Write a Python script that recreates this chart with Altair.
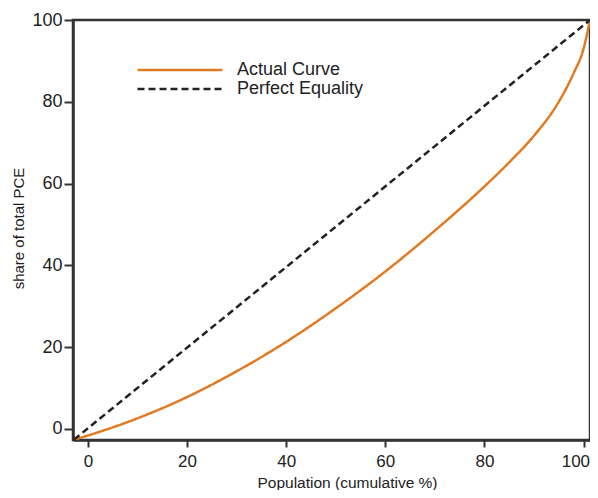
import altair as alt
import pandas as pd

# Lorenz curve readings
actual_x = [-2.8, 0, 10, 20, 30, 40, 50, 60, 70, 80, 85, 90, 95, 98, 100, 101.3]
actual_y = [-2.6, -1.6, 2.6, 7.8, 14.1, 21.3, 29.5, 38.5, 48.5, 59.3, 65.2, 71.7, 80, 87, 93, 100]
equal_x = [-2.8, 101.3]
equal_y = [-2.6, 100]
series = ["Actual Curve", "Perfect Equality"]
x_ticks = [0, 20, 40, 60, 80, 100]
y_ticks = [0, 20, 40, 60, 80, 100]

df = pd.concat([
    pd.DataFrame({"x": actual_x, "y": actual_y, "series": series[0], "order": range(len(actual_x))}),
    pd.DataFrame({"x": equal_x, "y": equal_y, "series": series[1], "order": range(len(equal_x))}),
])

FONT = "Liberation Sans"

legend_opts = dict(title=None, orient="none", legendX=30, legendY=40,
                   symbolType="M-5,0H5", symbolSize=289, symbolOffset=67,
                   labelOffset=47, symbolStrokeWidth=2.5, rowPadding=0,
                   labelFontSize=18, labelFont=FONT, labelColor="#222")

chart = alt.Chart(df).mark_line(strokeWidth=2.5, interpolate="monotone", clip=True).encode(
    x=alt.X("x:Q", scale=alt.Scale(domain=[-3, 101.3], nice=False, zero=False),
            axis=alt.Axis(values=x_ticks, title="Population (cumulative %)", grid=False,
                          tickSize=7, labelPadding=6, labelFontSize=17,
                          labelFlush=7, labelFlushOffset=6,
                          titleX=274, titleY=47,
                          titleBaseline="alphabetic", titleAlign="center", titleFontSize=15.5)),
    y=alt.Y("y:Q", scale=alt.Scale(domain=[-2.7, 100], nice=False, zero=False),
            axis=alt.Axis(values=y_ticks, title="share of total PCE", grid=False,
                          tickSize=9, labelPadding=2, labelFontSize=18,
                          titleX=-50, titleY=208,
                          titleBaseline="alphabetic", titleAlign="center", titleFontSize=15)),
    color=alt.Color("series:N", scale=alt.Scale(domain=series, range=["#e07b24", "#222222"]),
                    legend=alt.Legend(**legend_opts)),
    strokeDash=alt.StrokeDash("series:N", scale=alt.Scale(domain=series, range=[[1, 0], [7, 4]]),
                              legend=alt.Legend(**legend_opts)),
    order="order:Q",
).properties(
    width=517, height=420,
    autosize=alt.AutoSizeParams(type="none"),
    padding={"left": 65, "top": 12, "right": 0, "bottom": 50},
).configure_view(
    stroke="#333", strokeWidth=2.5
).configure_axis(
    domainColor="#333", domainWidth=2.5, tickColor="#333", tickWidth=2,
    labelFont=FONT, labelColor="#222",
    titleFont=FONT, titleFontWeight="normal", titleColor="#222",
)

chart.save("out.html", embed_options={"renderer": "svg", "actions": False})
